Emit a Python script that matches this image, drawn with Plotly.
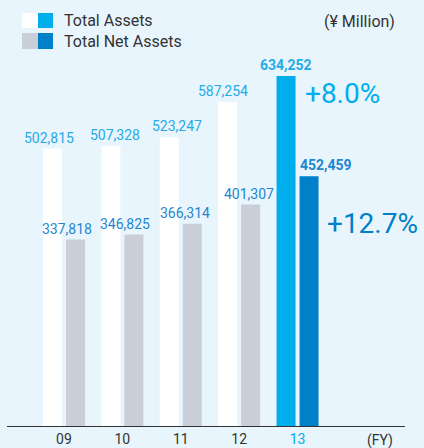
import plotly.graph_objects as go

years = ["09", "10", "11", "12", "13"]
total_assets = [502815, 507328, 523247, 587254, 634252]
net_assets = [337818, 346825, 366314, 401307, 452459]
growth_total = "+8.0%"
growth_net = "+12.7%"

# label nudges in pixels (style only)
total_label_dx = [-3.5, 4.5, 7.5, -4.5, 0]
net_label_dx = [-8.5, -8.5, -7.5, -2, 16.5]

BG = "#E8F5FD"
CYAN = "#00AEEB"
BLUE = "#0080C8"
GRAY = "#C9CED8"
LBL_CYAN = "#25ABE6"
LBL_BLUE = "#1E86CF"
DARK = "#333333"
FONT = "Roboto"

x = list(range(len(years)))
n = len(years)
HALF = 11.5  # px from category centre to each bar centre

def fmt(v, bold):
    s = f"{v:,}"
    return f"<b>{s}</b>" if bold else s

fig = go.Figure()
fig.add_trace(go.Bar(
    x=x, y=total_assets,
    marker=dict(color=["white"] * (n - 1) + [CYAN], line=dict(width=0)),
    hoverinfo="skip", showlegend=False,
))
fig.add_trace(go.Bar(
    x=x, y=net_assets,
    marker=dict(color=[GRAY] * (n - 1) + [BLUE], line=dict(width=0)),
    hoverinfo="skip", showlegend=False,
))

for i in range(n):
    fig.add_annotation(x=x[i], y=total_assets[i], xref="x", yref="y",
                       text=fmt(total_assets[i], i == n - 1), showarrow=False,
                       yanchor="bottom", xshift=-HALF + total_label_dx[i], yshift=1,
                       font=dict(size=14, color=LBL_CYAN))
    fig.add_annotation(x=x[i], y=net_assets[i], xref="x", yref="y",
                       text=fmt(net_assets[i], i == n - 1), showarrow=False,
                       yanchor="bottom", xshift=HALF + net_label_dx[i], yshift=1,
                       font=dict(size=14, color=LBL_BLUE))

ticktext = [y for y in years[:-1]] + [f"<span style='color:{CYAN}'>{years[-1]}</span>"]

fig.update_layout(
    width=424, height=448,
    margin=dict(l=7, r=19, t=60, b=22, autoexpand=False),
    paper_bgcolor=BG, plot_bgcolor=BG,
    barmode="group", bargap=0.212, bargroupgap=0.174,
    font=dict(family=FONT, color=DARK),
    xaxis=dict(
        range=[-0.976, 5.84], tickvals=x, ticktext=ticktext, automargin=False,
        showgrid=False, zeroline=False, showline=True, linecolor=DARK, linewidth=1,
        ticks="", tickfont=dict(size=14, color=DARK), fixedrange=True,
    ),
    yaxis=dict(
        range=[0, 663263], visible=False, showgrid=False, zeroline=False,
        fixedrange=True, automargin=False,
    ),
)

# FY label
fig.add_annotation(x=5.41, y=0, xref="x", yref="y", text="(FY)", showarrow=False,
                   yanchor="middle", yshift=-14, font=dict(size=14, color=DARK))

# growth labels
fig.add_annotation(x=4.097, y=total_assets[-1], xref="x", yref="y", text=growth_total,
                   showarrow=False, xanchor="left", yshift=-17,
                   font=dict(size=28, color=CYAN))
fig.add_annotation(x=4.474, y=net_assets[-1], xref="x", yref="y", text=growth_net,
                   showarrow=False, xanchor="left", yshift=-47,
                   font=dict(size=28, color=BLUE))

# legend (custom two-tone squares)
def px2x(px):
    return (px - 7) / 398
def px2y(py):
    return (426 - py) / 366

legend = [("Total Assets", "white", CYAN, 13, 28), ("Total Net Assets", GRAY, BLUE, 33, 49)]
for label, c1, c2, top, bot in legend:
    fig.add_shape(type="rect", xref="paper", yref="paper", x0=px2x(22), x1=px2x(38),
                  y0=px2y(bot), y1=px2y(top), fillcolor=c1, line=dict(width=0))
    fig.add_shape(type="rect", xref="paper", yref="paper", x0=px2x(38), x1=px2x(53),
                  y0=px2y(bot), y1=px2y(top), fillcolor=c2, line=dict(width=0))
    fig.add_annotation(xref="paper", yref="paper", x=px2x(62), y=px2y((top + bot) / 2),
                       text=label, showarrow=False, xanchor="left", yanchor="middle",
                       font=dict(size=16, color=DARK))

fig.add_annotation(xref="paper", yref="paper", x=px2x(397), y=px2y(21),
                   text="(¥ Million)", showarrow=False, xanchor="right", yanchor="middle",
                   font=dict(size=16, color=DARK))

fig.write_html("out.html", config={"displayModeBar": False},
               post_script="document.body.style.margin='0';document.body.style.padding='0';")
